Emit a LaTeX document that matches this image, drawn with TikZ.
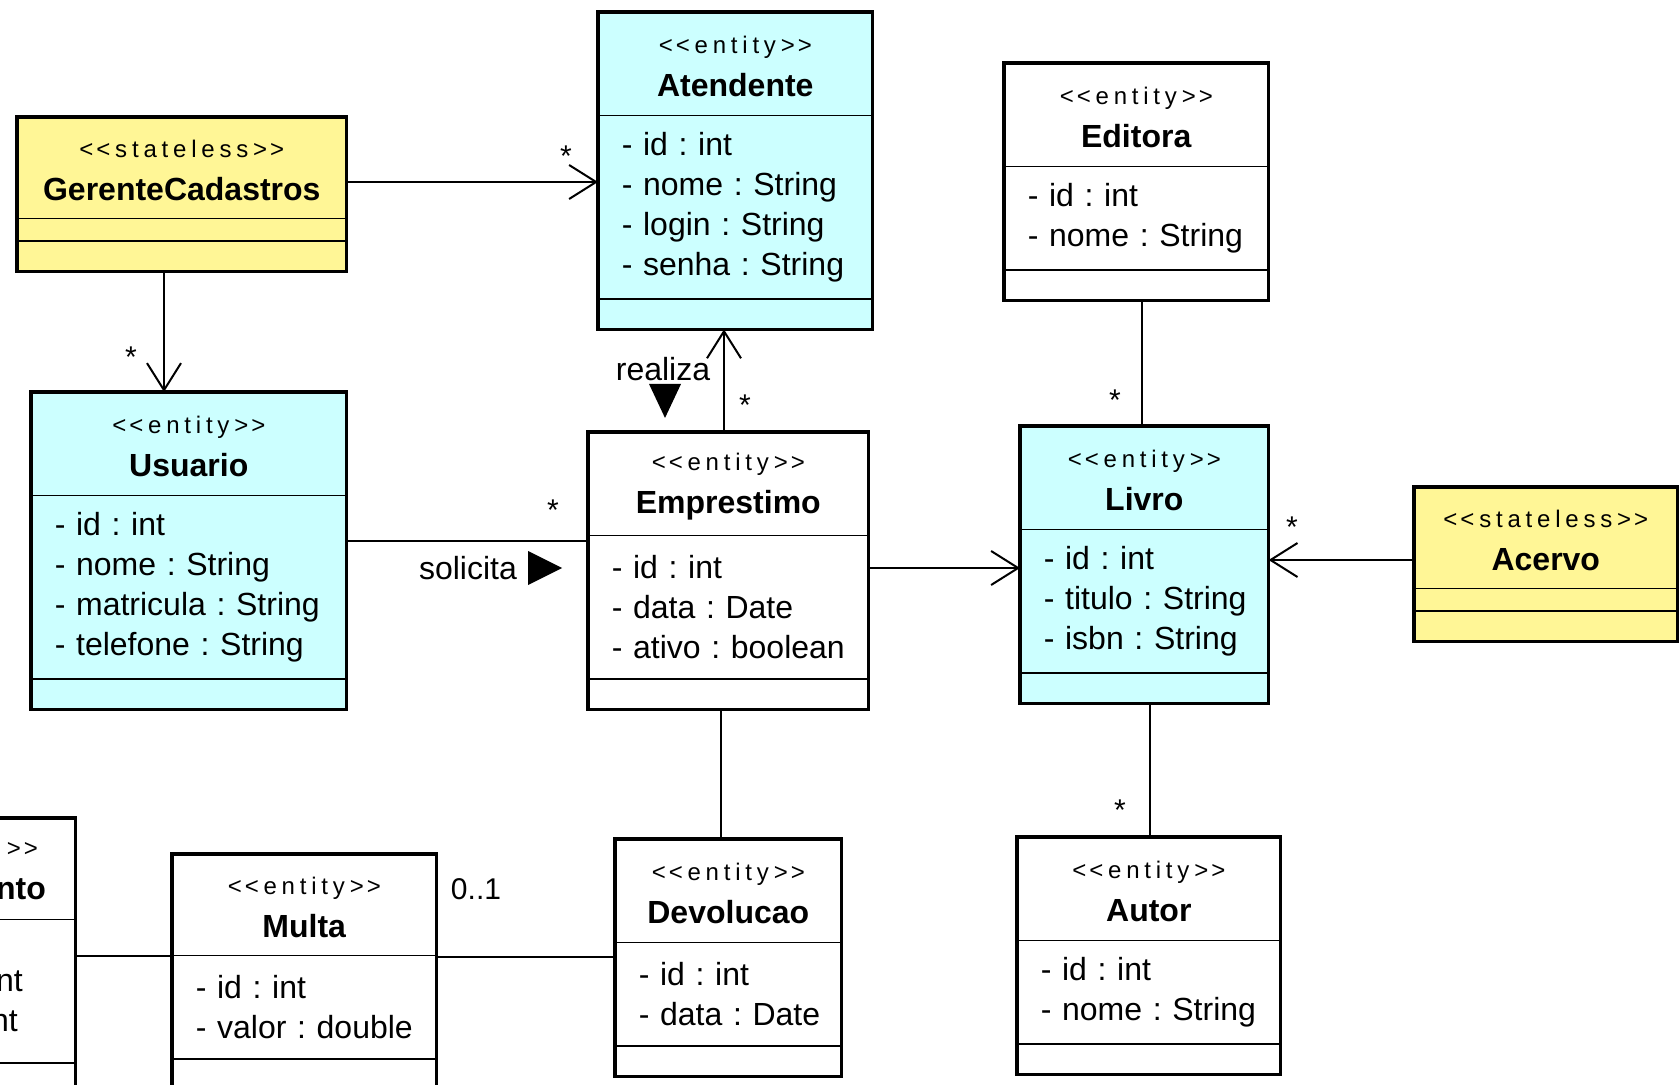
\documentclass[tikz,border=0pt]{standalone}
\usepackage{fontspec}
\setmainfont{Liberation Sans}
\newfontfamily\stereofont{Liberation Sans}[LetterSpace=20]
\usetikzlibrary{arrows.meta,shapes.multipart}
\definecolor{entitycyan}{RGB}{204,255,255}
\definecolor{statelessyellow}{RGB}{255,246,150}
\newcommand{\stereo}[1]{{\stereofont\fontsize{24}{30}\selectfont<\kern3pt<#1>\kern3pt>}}
\newcommand{\classhead}[3][101]{\parbox[c][#1pt][c]{\linewidth}{\vspace*{5pt}\centering\stereo{#2}\\[3pt]\textbf{#3}}}
\newcommand{\classattrs}[2]{\parbox[c][#1pt][c]{\linewidth}{\raggedright\leftskip=23pt\relax #2}}
\newcommand{\classempty}[1][28]{\parbox[c][#1pt]{\linewidth}{}}
\tikzset{
    class/.style = {
        rectangle split,
        rectangle split parts=3,
        draw,
        line width=1.6pt,
        inner sep=0pt,
        anchor=north west,
        font=\fontsize{32}{40}\selectfont\frenchspacing,
        },
    entity/.style = {
        class,
        fill = entitycyan,
        },
    stateless/.style = {
        class,
        fill = statelessyellow,
        },
    border/.style = {
        line width=3.5pt,
        },
    assoc/.style = {
        line width=2pt,
        },
    nav/.style = {
        assoc,
        -{Straight Barb[length=27pt, width=34pt]},
        },
    mult/.style = {
        font=\fontsize{30}{36}\selectfont,
        inner sep=0pt,
        },
    role/.style = {
        font=\fontsize{32}{40}\selectfont,
        inner sep=0pt,
        },
}
\begin{document}
\begin{tikzpicture}[x=1pt,y=-1pt]
    \useasboundingbox (0,0) rectangle (1680,1084);
    \clip (0,0) rectangle (1680,1084);

    \node[stateless, text width=328pt] (ger) at (17,117)
        {\classhead[99]{stateless}{GerenteCadastros}\nodepart{two}\classempty[21]\nodepart{three}\classempty};
    \node[entity, text width=273pt] (ate) at (598,12)
        {\classhead{entity}{Atendente}\nodepart{two}\classattrs{182}{- id : int\\- nome : String\\- login : String\\- senha : String}\nodepart{three}\classempty};
    \node[class, text width=263pt] (edi) at (1004,63)
        {\classhead{entity}{Editora}\nodepart{two}\classattrs{102}{- id : int\\- nome : String}\nodepart{three}\classempty};
    \node[entity, text width=314pt] (usu) at (31,392)
        {\classhead{entity}{Usuario}\nodepart{two}\classattrs{182}{- id : int\\- nome : String\\- matricula : String\\- telefone : String}\nodepart{three}\classempty};
    \node[class, text width=279pt] (emp) at (588,432)
        {\classhead{entity}{Emprestimo}\nodepart{two}\classattrs{142}{- id : int\\- data : Date\\- ativo : boolean}\nodepart{three}\classempty};
    \node[entity, text width=247pt] (liv) at (1020,426)
        {\classhead{entity}{Livro}\nodepart{two}\classattrs{142}{- id : int\\- titulo : String\\- isbn : String}\nodepart{three}\classempty};
    \node[stateless, text width=262pt] (ace) at (1414,487)
        {\classhead[99]{stateless}{Acervo}\nodepart{two}\classempty[21]\nodepart{three}\classempty};
    \node[class, text width=225pt] (dev) at (615,839)
        {\classhead{entity}{Devolucao}\nodepart{two}\classattrs{102}{- id : int\\- data : Date}\nodepart{three}\classempty};
    \node[class, text width=262pt] (aut) at (1017,837)
        {\classhead{entity}{Autor}\nodepart{two}\classattrs{102}{- id : int\\- nome : String}\nodepart{three}\classempty};
    \node[class, text width=263pt] (mul) at (172,854)
        {\classhead[99]{entity}{Multa}\nodepart{two}\classattrs{102}{- id : int\\- valor : double}\nodepart{three}\classempty};
    % cut at the left border
    \node[class, text width=260pt] (pag) at (-186,818)
        {\parbox[c][99pt][c]{\linewidth}{\vspace*{5pt}\raggedleft{\stereofont\fontsize{24}{30}\selectfont>\kern3pt>}\kern37pt\\[3pt]\textbf{nto}\kern29pt}%
        \nodepart{two}\classattrs{142}{\raggedleft\mbox{}\\nt\kern52pt\\nt\kern57pt}\nodepart{three}\classempty};

    \foreach \cls in {ger,ate,edi,usu,emp,liv,ace,dev,aut,mul,pag}
        \draw[border] (\cls.north west) rectangle (\cls.south east);

    \draw[nav] (ger.east |- 0,182) -- (ate.west |- 0,182);
    \draw[nav] (ger.south -| 164,0) -- (usu.north -| 164,0);
    \draw[assoc] (usu.east |- 0,541) -- (emp.west |- 0,541);
    \draw[nav] (emp.north -| 724,0) -- (ate.south -| 724,0);
    \draw[nav] (emp.east |- 0,568) -- (liv.west |- 0,568);
    \draw[assoc] (edi.south -| 1142,0) -- (liv.north -| 1142,0);
    \draw[nav] (ace.west |- 0,560) -- (liv.east |- 0,560);
    \draw[assoc] (liv.south -| 1150,0) -- (aut.north -| 1150,0);
    \draw[assoc] (emp.south -| 721,0) -- (dev.north -| 721,0);
    \draw[assoc] (mul.east |- 0,957) -- (dev.west |- 0,957);
    \draw[assoc] (pag.east |- 0,956) -- (mul.west |- 0,956);

    \node[mult] (m1) at (566,156) {*};
    \node[mult] (m2) at (131,357) {*};
    \node[mult] (m3) at (553,510) {*};
    \node[mult] (m4) at (745,405) {*};
    \node[mult] (m5) at (1115,400) {*};
    \node[mult] (m6) at (1292,527) {*};
    \node[mult] (m7) at (1120,810) {*};
    \node[mult] (m8) at (476,889) {0..1};

    \node[role] (sol) at (468,568) {solicita};
    \fill ([xshift=11pt]sol.east) ++(0,-17) -- ++(34,17) -- ++(-34,17) -- cycle;
    \node[role] (rea) at (663,369) {realiza};
    \fill ([xshift=2pt,yshift=-3pt]rea.south) ++(-16,0) -- ++(32,0) -- ++(-16,34) -- cycle;
\end{tikzpicture}
\end{document}
